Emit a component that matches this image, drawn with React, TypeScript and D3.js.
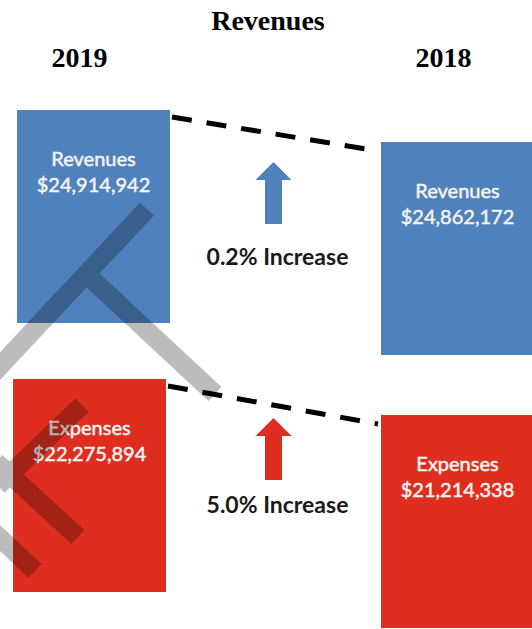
import React from "react";
import * as d3 from "d3";

const years = ["2019", "2018"];
const categories = ["Revenues", "Expenses"];
const revenues = [24914942, 24862172];
const expenses = [22275894, 21214338];
const changeLabels = ["0.2% Increase", "5.0% Increase"];
const title = "Revenues";

const W = 532;
const H = 629;
const BOX_W = 153;
const BOX_H = 213;
const COLORS: Record<string, string> = { Revenues: "#4f81bd", Expenses: "#df2e1f" };

const colX = d3.scalePoint<string>().domain(years).range([17, 381]);
const rowY = d3.scalePoint<string>().domain(categories).range([110, 379]);
const arrowTipY = d3.scalePoint<string>().domain(categories).range([162, 418]);
const changeY = d3.scalePoint<string>().domain(categories).range([265, 513]);
const dropByRow: Record<string, number> = { Revenues: 32, Expenses: 36 };
const shift2019: Record<string, number> = { Revenues: 0, Expenses: -4 };

const fmt = d3.format("$,");

function boxPos(cat: string, year: string) {
  const x = (colX(year) as number) + (year === "2019" ? shift2019[cat] : 0);
  const y = (rowY(cat) as number) + (year === "2018" ? dropByRow[cat] : 0);
  return { x, y };
}

function arrowPath(cx: number, tip: number) {
  const p = d3.path();
  p.moveTo(cx, tip);
  p.lineTo(cx + 18, tip + 18);
  p.lineTo(cx + 8.5, tip + 18);
  p.lineTo(cx + 8.5, tip + 62);
  p.lineTo(cx - 8.5, tip + 62);
  p.lineTo(cx - 8.5, tip + 18);
  p.lineTo(cx - 18, tip + 18);
  p.closePath();
  return p.toString();
}

const line = d3.line<[number, number]>();

// watermark strokes (partial rotated "DRAFT" overlay)
const watermark: [number, number][][] = [
  [[147, 209], [-12, 379]],
  [[84, 272], [215, 394]],
  [[82, 405], [-2, 486]],
  [[-4, 462], [78, 537]],
  [[-16, 523], [35, 571]],
];

export default function App() {
  const values: Record<string, number[]> = { Revenues: revenues, Expenses: expenses };
  const midX = ((colX("2019") as number) + BOX_W + (colX("2018") as number)) / 2;
  return (
    <svg
      width={W}
      height={H}
      style={{ position: "absolute", left: 0, top: 0, background: "#fff" }}
    >
      <rect x={0} y={0} width={W} height={H} fill="#fff" />
      <text
        x={268}
        y={30}
        textAnchor="middle"
        fontFamily="'Liberation Serif', 'Times New Roman', serif"
        fontWeight="bold"
        fontSize={28}
        fill="#000"
      >
        {title}
      </text>
      {years.map((yr) => (
        <text
          key={yr}
          x={(colX(yr) as number) + BOX_W / 2 - 14}
          y={67}
          textAnchor="middle"
          fontFamily="'Liberation Serif', 'Times New Roman', serif"
          fontWeight="bold"
          fontSize={28}
          fill="#000"
        >
          {yr}
        </text>
      ))}
      {categories.map((cat, ci) => {
        const a = boxPos(cat, "2019");
        const b = boxPos(cat, "2018");
        const tip = arrowTipY(cat) as number;
        return (
          <g key={cat}>
            {years.map((yr, yi) => {
              const { x, y } = boxPos(cat, yr);
              return (
                <g key={yr}>
                  <rect x={x} y={y} width={BOX_W} height={BOX_H} fill={COLORS[cat]} />
                  <g
                    fontFamily="Lato, 'Open Sans', sans-serif"
                    fontSize={20}
                    fill="#f3f3f3"
                    stroke="#f3f3f3"
                    strokeWidth={0.5}
                    textAnchor="middle"
                  >
                    <text x={x + BOX_W / 2} y={y + 56}>
                      {cat}
                    </text>
                    <text x={x + BOX_W / 2} y={y + 82}>
                      {fmt(values[cat][yi])}
                    </text>
                  </g>
                </g>
              );
            })}
            <path
              d={line([
                [a.x + BOX_W + 2, a.y + 7],
                [b.x - 3, b.y + 9],
              ]) as string}
              stroke="#000"
              strokeWidth={5}
              strokeDasharray="20 15"
              fill="none"
            />
            <path d={arrowPath(midX - 2, tip)} fill={COLORS[cat]} />
            <text
              x={midX + 2}
              y={changeY(cat) as number}
              textAnchor="middle"
              fontFamily="Lato, 'Open Sans', sans-serif"
              fontWeight="bold"
              fontSize={23}
              fill="#1a1a1a"
            >
              {changeLabels[ci]}
            </text>
          </g>
        );
      })}
      <g opacity={0.26}>
        {watermark.map((seg, i) => (
          <path
            key={i}
            d={line(seg) as string}
            stroke="#000"
            strokeWidth={19}
            fill="none"
            strokeLinecap="butt"
          />
        ))}
      </g>
    </svg>
  );
}
